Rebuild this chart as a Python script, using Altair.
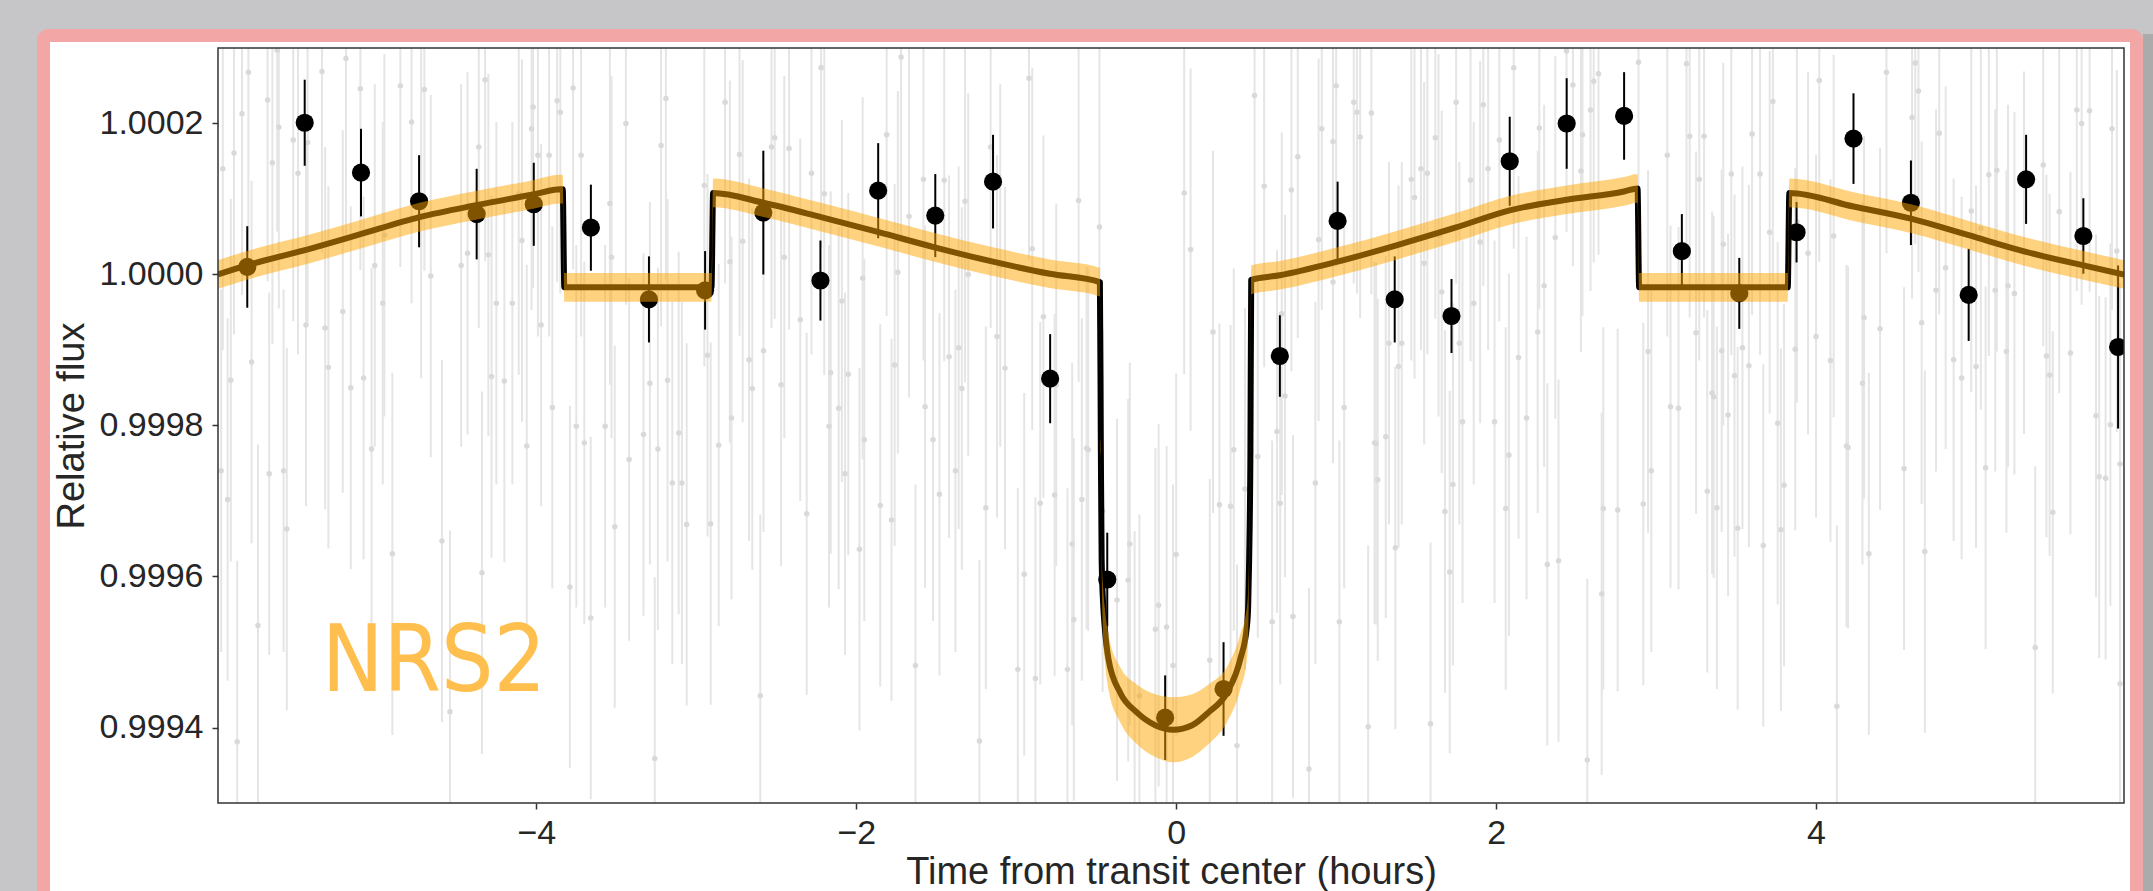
import altair as alt
import pandas as pd

# ---------------- data (time in hours, flux offsets in ppm) ----------------
# binned points (black)
bin_t = [-5.807, -5.448, -5.096, -4.733, -4.373, -4.016, -3.659, -3.296, -2.945, -2.581,
         -2.224, -1.863, -1.506, -1.145, -0.788, -0.431, -0.069, 0.296, 0.648, 1.009,
         1.366, 1.721, 2.085, 2.441, 2.800, 3.161, 3.520, 3.878, 4.234, 4.593,
         4.954, 5.313, 5.671, 5.888]
bin_ppm = [10, 201, 135, 97, 80, 93, 62, -33, -21, 82,
           -8, 111, 78, 123, -138, -404, -587, -549, -108, 71,
           -33, -55, 150, 200, 210, 31, -25, 56, 180, 95,
           -27, 126, 51, -96]
bin_err = [54, 57, 58, 61, 60, 55, 57, 57, 52, 82,
           53, 63, 55, 62, 59, 62, 56, 62, 54, 52,
           57, 49, 59, 60, 58, 49, 47, 40, 60, 56,
           61, 59, 50, 108]

# unbinned points (light grey)
gray_t = [
    -5.62, -5.80, -5.68, -5.84, -5.89, -5.96, -5.61, -5.65, -5.49, -5.52,
    -5.43, -5.34, -5.19, -5.10, -4.85, -4.70, -4.78, -4.32, -4.36, -4.03,
    -4.02, -3.87, -3.85, -3.77, -3.72, -3.54, -3.22, -3.19, -3.44, -3.92,
    -3.99, -4.11, -4.09, -4.30, -4.43, -4.47, -4.72, -4.95, -5.01, -4.66,
    -4.96, -5.21, -5.32, -5.44, -5.78, -5.91, -5.30, -5.08, -5.16, -4.28,
    -4.20, -4.25, -4.15, -3.97, -3.90, -3.75, -3.57, -3.33, -3.29, -3.18,
    -3.11, -4.06, -3.53,
    -5.97, -5.93, -5.67, -5.58, -5.56, -5.74, -5.87, -5.03, -4.90, -4.59,
    -4.34, -4.54, -3.70, -3.79, -3.66, -3.51, -3.42, -3.24, -3.26, -3.15,
    -3.09, -3.06,
    -2.82, -2.95, -2.73, -2.53, -2.51, -2.42, -2.28, -2.20, -2.22, -2.79,
    -2.71, -2.45, -2.93, -2.67, -2.58, -2.35, -2.09, -2.16, -2.05, -2.47,
    -2.65, -2.78, -2.17, -2.11, -1.95, -1.81, -1.72, -1.96, -1.74, -1.76,
    -1.58, -1.45, -1.67, -1.32, -1.30, -1.42, -1.36, -1.34, -1.57, -1.52,
    -1.16, -1.10, -0.90, -0.92, -0.61, -0.48, -0.83, -1.12, -1.07, -0.75,
    -0.56, 0.05, 0.09, 0.23, 0.49, 0.55, 0.72, 0.76, 0.91, 0.98,
    1.00, 1.11, 1.13, 1.22, 1.15, 0.89, 0.98, 0.66, 0.68, 0.63,
    1.33, 1.41, 1.39, 1.47, 1.49, 1.53, 1.57, 1.62, 1.64, 1.55,
    1.66, 1.05, 1.25, 1.31,
    -2.86, -2.91, -2.60, -2.07, -2.31, -1.98, -1.85, -1.78, -1.63, -1.48,
    -1.38, -1.23, -1.19, -0.99, -0.95, -0.88, -0.85, -0.76, -0.68, -0.65,
    -0.64, -0.59, -0.55, -0.46, -0.37, -0.29, -0.23, -0.11, -0.13, -0.06,
    -0.02, 0.00, 0.21, 0.27, 0.34, 0.38, 0.36, 0.51, 0.43, 0.65,
    0.60, 0.73, 0.83, 0.87, 1.02, 1.20, 1.26, 1.24, 1.37, 1.59,
    1.68, 1.71, -0.30, -0.26,
    1.75, 1.92, 2.02, 1.84, 1.90, 1.95, 2.11, 2.27, 2.37, 2.30,
    2.44, 2.48, 2.54, 2.53, 2.61, 2.64, 2.59, 1.86, 1.77, 2.14,
    1.99, 1.79, 2.19, 2.26, 2.89, 3.07, 3.19, 3.21, 3.30, 3.27,
    3.47, 3.65, 3.60, 3.73, 3.42, 3.71, 3.88, 3.95, 4.11, 4.02,
    4.44, 4.62, 4.64, 4.60, 4.77, 5.08, 5.13, 5.42, 5.63, 5.71,
    5.66, 5.85, 5.88, 5.52, 4.97, 5.03, 5.30, 5.24, 5.20, 5.12,
    4.81, 4.75, 4.66, 4.40, 4.30, 4.86, 4.91, 5.00, 5.19, 5.44,
    5.59, 5.75, 5.84, 5.46, 4.29, 4.19, 4.09, 4.00, 3.87, 3.76,
    3.58, 3.49, 3.54, 3.41, 3.45, 3.35, 3.36, 3.25, 2.95, 3.09,
    3.14,
    1.73, 2.08, 2.06, 2.32, 2.39, 2.57, 2.66, 2.67, 2.76, 2.92,
    2.97, 3.32, 3.38, 3.51, 3.67, 3.78, 3.80, 4.13, 4.20, 4.33,
    4.55, 4.68, 5.06, 5.37, 5.48, 5.77, 5.81, 5.90, 5.90,
]
gray_ppm = [
    297, 268, 231, 213, 161, 140, 195, 148, 134, 178,
    175, 269, 286, 246, 250, 245, 202, 258, 169, 193,
    222, 230, 215, 247, 158, 94, 171, 233, 200, 158,
    158, 107, 45, 26, 28, 12, 103, 52, 12, -2,
    -38, -49, -71, -67, -116, -140, -123, -137, -150, -135,
    -141, -38, -38, -67, -176, -201, -201, -212, -144, -140,
    -210, -227, 23,
    -260, -298, -264, -260, -337, -465, -619, -231, -370, -353,
    -395, -579, -223, -414, -455, -334, -245, -231, -641, -276,
    -276, -331,
    228, 118, 159, 169, 181, 167, 134, 107, 274, 17,
    44, 23, -107, -113, -101, -60, -35, -130, -132, -146,
    -151, -190, -201, -177, -219, 185, 288, -5, 3, -120,
    126, 125, 77, 97, 0, -109, -97, -151, -175, -219,
    169, 12, 34, 260, 98, 63, -56, -82, -124, -146,
    -230, 108, 33, -76, 237, 117, 112, 156, 193, 176,
    250, 228, 215, 214, 182, 46, -10, -52, -161, -208,
    -91, -91, -122, 126, 102, 140, 134, 181, 52, 15,
    -23, -176, -224, -215,
    -226, -330, -558, -264, -317, -364, -306, -325, -518, -291,
    -260, -618, -309, -523, -397, -535, -303, -292, -523, -357,
    -457, -298, -232, -313, -431, -357, -558, -438, -470, -467,
    -518, -371, -511, -305, -307, -624, -232, -241, -284, -303,
    -460, -453, -655, -276, -460, -599, -272, -223, -362, -595,
    -314, -394, -405, -580,
    228, 225, 178, 125, 43, 140, 274, 194, 49, -15,
    296, 251, 185, 137, 256, 266, 218, -38, -91, -110,
    -195, -195, -190, -76, 281, 158, 279, 183, 183, 126,
    133, 133, 186, 229, 40, 56, 70, 28, 51, 257,
    268, 280, 243, 208, 187, 132, 138, 145, 218, 217,
    200, 193, 31, 83, 84, 61, 29, -25, -15, -21,
    9, -21, -64, -72, -57, -113, -137, -122, -102, -108,
    -104, -187, -199, -133, -144, -227, -114, -82, -99, -197,
    -121, -134, -97, -101, -186, -157, -162, -77, -102, -175,
    -177,
    -278, -239, -310, -384, -379, -643, -423, -310, -312, -304,
    -260, -287, -309, -336, -359, -338, -279, -572, -229, -370,
    -257, -367, -256, -494, -315, -268, -270, -542, -251,
]
gray_err = 240  # typical per-point uncertainty (ppm)

# transit + systematics model, with its credible band
model_t = [-5.99, -5.81, -5.40, -5.12, -4.73, -4.37, -4.02, -3.85, -3.835, -3.825,
           -2.905, -2.895, -2.58, -2.22, -1.86, -1.51, -1.145, -0.79, -0.477,
           -0.471, -0.466, -0.456, -0.447, -0.423, -0.35, -0.246, -0.131, -0.017, 0.10,
           0.202, 0.317, 0.40, 0.442, 0.45, 0.456, 0.464, 0.469,
           0.648, 1.009, 1.366, 1.744, 2.085, 2.441, 2.80, 2.884, 2.894,
           3.823, 3.833, 4.234, 4.593, 4.954, 5.313, 5.671, 5.925]
model_ppm = [0, 12, 35, 52, 76, 92, 106, 113, 113, -17,
             -17, 108, 95, 76, 56, 36, 17, 1, -10,
             -232, -378, -439, -466, -510, -554, -580, -597, -603, -597,
             -580, -554, -510, -466, -439, -378, -232, -7,
             -1, 17, 38, 62, 85, 99, 110, 114, -17,
             -17, 108, 90, 74, 52, 30, 12, 0]
model_lo = [-19, -7, 16, 33, 57, 73, 87, 94, 94, -36,
            -36, 89, 76, 57, 37, 17, -2, -18, -29,
            -240, -386, -483, -510, -550, -593, -622, -639, -646, -639,
            -622, -593, -550, -510, -483, -386, -240, -26,
            -20, -2, 19, 43, 66, 80, 91, 95, -36,
            -36, 89, 71, 55, 33, 11, -7, -19]
model_hi = [19, 31, 54, 71, 95, 111, 125, 132, 132, 2,
            2, 127, 114, 95, 75, 55, 36, 20, 9,
            -224, -370, -417, -440, -477, -520, -543, -556, -560, -556,
            -543, -520, -477, -440, -417, -370, -224, 12,
            18, 36, 57, 81, 104, 118, 129, 133, 2,
            2, 127, 109, 93, 71, 49, 31, 19]

x_ticks = [-4, -2, 0, 2, 4]
y_ticks = [0.9994, 0.9996, 0.9998, 1.0000, 1.0002]
x_domain = [-5.99, 5.925]
y_domain = [0.9993, 1.0003]
label_text = "NRS2"
label_t, label_ppm = -4.64, -552

# ---------------- tables ----------------
def fl(p):
    return 1.0 + p * 1e-6

assert len(gray_t) == len(gray_ppm)
gray = pd.DataFrame({"t": gray_t,
                     "f": [fl(p) for p in gray_ppm],
                     "lo": [fl(p - gray_err) for p in gray_ppm],
                     "hi": [fl(p + gray_err) for p in gray_ppm]})
bins = pd.DataFrame({"t": bin_t,
                     "f": [fl(p) for p in bin_ppm],
                     "lo": [fl(p - e) for p, e in zip(bin_ppm, bin_err)],
                     "hi": [fl(p + e) for p, e in zip(bin_ppm, bin_err)]})
model = pd.DataFrame({"t": model_t,
                      "f": [fl(p) for p in model_ppm],
                      "lo": [fl(p) for p in model_lo],
                      "hi": [fl(p) for p in model_hi],
                      "i": list(range(len(model_t)))})
lab = pd.DataFrame({"t": [label_t], "f": [fl(label_ppm)], "s": [label_text]})
one = pd.DataFrame({"k": [0]})

# ---------------- styling ----------------
W, H = 1906, 755
FONT = "Liberation Sans, Arial, Helvetica, sans-serif"
TXT = "#262626"

xs = alt.Scale(domain=x_domain, nice=False, zero=False)
ys = alt.Scale(domain=y_domain, nice=False, zero=False)

x_axis = alt.Axis(values=x_ticks, title="Time from transit center (hours)", grid=False,
                  domain=False, tickSize=6, tickWidth=1.5, tickColor="#333333",
                  labelFont=FONT, labelFontSize=34, labelColor=TXT, labelPadding=7,
                  labelFlush=False, titleFont=FONT, titleFontSize=38,
                  titleFontWeight="normal", titleColor=TXT, titleY=80,
                  titleBaseline="alphabetic", zindex=1)
y_axis = alt.Axis(values=y_ticks, format=".4f", title="Relative flux", grid=False,
                  domain=False, tickSize=6, tickWidth=1.5, tickColor="#333333",
                  labelFont=FONT, labelFontSize=34, labelColor=TXT, labelPadding=9,
                  labelFlush=False, titleFont=FONT, titleFontSize=38,
                  titleFontWeight="normal", titleColor=TXT, titleAngle=270,
                  titleX=-135, titleY=377.5, titleAlign="center",
                  titleBaseline="alphabetic", zindex=1)

X = alt.X("t:Q", scale=xs, axis=x_axis)
Y = alt.Y("f:Q", scale=ys, axis=y_axis)
Ylo = alt.Y("lo:Q", scale=ys, axis=y_axis)

panel = alt.Chart(one).mark_rect(fill="white", stroke="#f2a7a6", strokeWidth=13,
                                 cornerRadius=5).encode(
    x=alt.value(-174.5), x2=alt.value(1918.5), y=alt.value(-12.5), y2=alt.value(880))
shadow = alt.Chart(one).mark_rect(fill="#8c8c8c", opacity=0.45).encode(
    x=alt.value(1925), x2=alt.value(1935), y=alt.value(-14), y2=alt.value(880))

gray_bars = alt.Chart(gray).mark_rule(color="#e5e5e5", strokeWidth=2, clip=True).encode(
    x=X, y=Ylo, y2="hi:Q")
gray_dots = alt.Chart(gray).mark_circle(color="#d9d9d9", size=30, opacity=1, clip=True).encode(
    x=X, y=Y)
bin_bars = alt.Chart(bins).mark_rule(color="black", strokeWidth=2, clip=True).encode(
    x=X, y=Ylo, y2="hi:Q")
bin_dots = alt.Chart(bins).mark_circle(color="black", size=330, opacity=1, clip=True).encode(
    x=X, y=Y)
model_line = alt.Chart(model).mark_line(color="black", strokeWidth=6, strokeJoin="round",
                                        interpolate="monotone", clip=True).encode(
    x=X, y=Y, order="i:Q")
band = alt.Chart(model).mark_area(color="#ffa500", opacity=0.5, interpolate="monotone",
                                  clip=True).encode(x=X, y=Ylo, y2="hi:Q")
frame = alt.Chart(one).mark_rect(fill="transparent", stroke="#333333", strokeWidth=1.5).encode(
    x=alt.value(0), x2=alt.value(W), y=alt.value(0), y2=alt.value(H))
label = alt.Chart(lab).mark_text(font="Liberation Sans Narrow, DejaVu Sans Condensed, sans-serif",
                                 fontSize=92, color="#ffbf4f", align="center",
                                 baseline="alphabetic").encode(x=X, y=Y, text="s:N")

chart = alt.layer(shadow, panel, gray_bars, gray_dots, bin_bars, bin_dots, model_line, band,
                  frame, label).properties(
    width=W, height=H,
    padding={"left": 218, "top": 48, "right": 29, "bottom": 88},
    autosize=alt.AutoSizeParams(type="none"),
).configure(background="#c6c5c7").configure_view(strokeWidth=0)

chart.save("out.html", embed_options={"renderer": "svg", "actions": False})
